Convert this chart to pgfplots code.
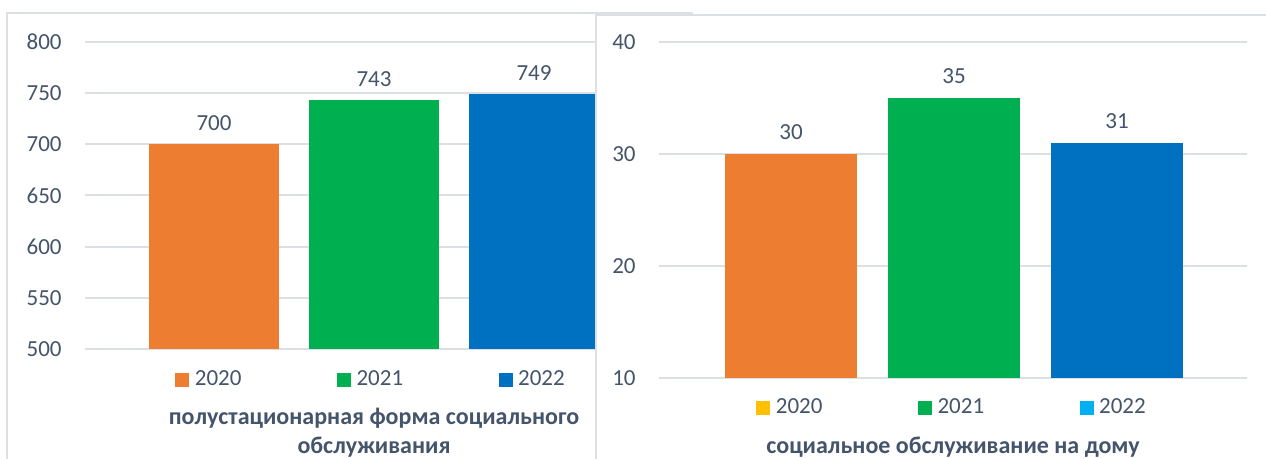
\documentclass[border=0pt]{standalone}
\usepackage{fontspec}
\setmainfont{Carlito}
\usepackage{pgfplots}
\pgfplotsset{compat=1.18}
\definecolor{cOr}{HTML}{ED7D31}
\definecolor{cGr}{HTML}{00B050}
\definecolor{cBl}{HTML}{0070C0}
\definecolor{cYe}{HTML}{FFC000}
\definecolor{cLb}{HTML}{00B0F0}
\definecolor{txt}{HTML}{44546A}
\definecolor{gridc}{HTML}{DCDFE4}
\definecolor{framec}{HTML}{DCDFE4}
\pgfplotsset{
  common/.style={
    scale only axis, anchor=south west, clip=false,
    ybar, bar shift=0pt,
    /pgf/number format/assume math mode=true,
    axis line style={draw=none}, tick style={draw=none},
    xtick=\empty,
    ymajorgrids, grid style={draw=gridc, line width=1pt},
    ticklabel style={font=\fontsize{11.5}{13.8}\selectfont, text=txt},
    yticklabel style={anchor=east, inner sep=0pt, xshift=-11.5pt},
    nodes near coords,
    every node near coord/.append style={font=\fontsize{11.5}{13.8}\selectfont, text=txt, anchor=south, inner sep=0pt, yshift=6.75pt},
    legend columns=3,
    legend image code/.code={\fill[##1] (0pt,-3.5pt) rectangle (7pt,3.5pt);},
    legend style={draw=none, fill=none, anchor=west, inner sep=0pt,
      font=\fontsize{11.5}{13.8}\selectfont, text=txt,
      nodes={inner sep=2.75pt},
      /tikz/every even column/.append style={column sep=45pt}},
    xlabel style={at={(axis description cs:0.5,0)}, anchor=north, yshift=-29.5pt,
      font=\fontsize{12}{14.5}\selectfont\bfseries, text=txt, align=center, inner sep=0pt},
  }
}
\begin{document}
\begin{tikzpicture}[x=1pt,y=1pt]
\useasboundingbox (0,0) rectangle (633,229.5);
\draw[framec, line width=0.75pt] (3.5,-10) -- (3.5,223) -- (346.5,223);
\begin{axis}[common, at={(42.5pt,55pt)}, width=289pt, height=153.5pt,
  xmin=0, xmax=578, ymin=500, ymax=800, ytick={500,550,600,650,700,750,800},
  bar width=65pt,
  legend style={at={(0.1557,0)}, yshift=-15.5pt},
  xlabel={полустационарная форма социального\\обслуживания}]
\addplot[fill=cOr, draw=none] coordinates {(129,700)};
\addplot[fill=cGr, draw=none] coordinates {(289,743)};
\addplot[fill=cBl, draw=none] coordinates {(449,749)};
\legend{2020,2021,2022}
\end{axis}
\fill[white] (298,222) rectangle (640,-10);
\draw[framec, line width=0.75pt] (298,-10) -- (298,222) -- (640,222);
\begin{axis}[common, at={(329.5pt,40.5pt)}, width=294pt, height=168pt,
  xmin=0, xmax=588, ymin=10, ymax=40, ytick={10,20,30,40},
  bar width=66pt,
  legend style={at={(0.165,0)}, yshift=-15pt},
  xlabel={социальное обслуживание на дому}]
\addplot[fill=cOr, draw=none, forget plot] coordinates {(132,30)};
\addplot[fill=cGr, draw=none, forget plot] coordinates {(295,35)};
\addplot[fill=cBl, draw=none, forget plot] coordinates {(458,31)};
\addlegendimage{fill=cYe, draw=none}
\addlegendimage{fill=cGr, draw=none}
\addlegendimage{fill=cLb, draw=none}
\legend{2020,2021,2022}
\end{axis}
\end{tikzpicture}
\end{document}
